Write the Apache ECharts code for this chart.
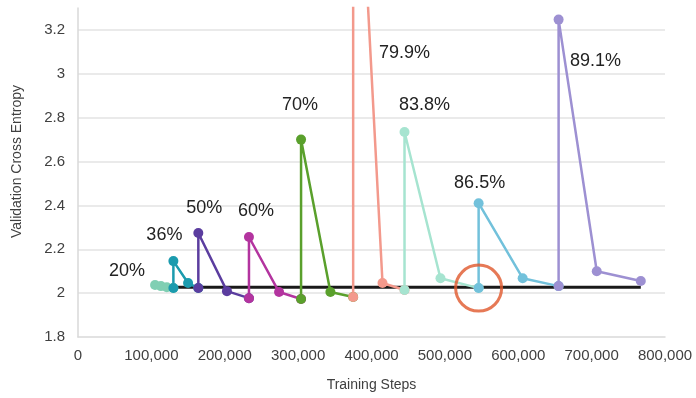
<!DOCTYPE html>
<html>
<head>
<meta charset="utf-8">
<script src="https://cdn.jsdelivr.net/npm/echarts@6/dist/echarts.min.js"></script>
<style>
  html, body { margin: 0; padding: 0; background: #fff; }
  #chart { width: 696px; height: 398px; }
</style>
</head>
<body>
<div id="chart"></div>
<script>
// Pruning levels (one retraining run each)
const pruneLabels = ['20%', '36%', '50%', '60%', '70%', '79.9%', '83.8%', '86.5%', '89.1%'];

// Training steps and validation loss for each pruning run
const steps20 = [105000, 113000, 121000, 130000];
const loss20  = [2.037, 2.032, 2.027, 2.023];
const steps36 = [130000, 130000, 150000, 164000];
const loss36  = [2.023, 2.146, 2.046, 2.023];
const steps50 = [164000, 164000, 203000, 233000];
const loss50  = [2.023, 2.274, 2.009, 1.977];
const steps60 = [233000, 233000, 274000, 304000];
const loss60  = [1.977, 2.256, 2.005, 1.973];
const steps70 = [304000, 304000, 344000, 375000];
const loss70  = [1.973, 2.700, 2.005, 1.982];
const steps80 = [375000, 375000, 415000, 445000];
const loss80  = [1.982, 4.600, 2.046, 2.014];
const steps84 = [445000, 445000, 494000, 546000];
const loss84  = [2.014, 2.735, 2.068, 2.023];
const steps87 = [546000, 546000, 606000, 655000];
const loss87  = [2.023, 2.410, 2.068, 2.032];
const steps89 = [655000, 655000, 707000, 767000];
const loss89  = [2.032, 3.247, 2.100, 2.055];

// Unpruned reference loss
const baselineSteps = [128000, 767000];
const baselineLoss  = [2.027, 2.027];

// Highlighted checkpoint
const highlightSteps = [546000];
const highlightLoss  = [2.023];

// Axis ticks
const xTicks = { min: 0, max: 800000, step: 100000 };
const yTicks = { min: 1.8, max: 3.3, step: 0.2 };

const runs = [
  { steps: steps20, loss: loss20, color: '#80cfb3', labelAt: 0, offset: [-28, -14] },
  { steps: steps36, loss: loss36, color: '#1b9bae', labelAt: 1, offset: [-9, -26] },
  { steps: steps50, loss: loss50, color: '#5b3d9f', labelAt: 1, offset: [6, -25] },
  { steps: steps60, loss: loss60, color: '#b3349f', labelAt: 1, offset: [7, -26] },
  { steps: steps70, loss: loss70, color: '#5aa02c', labelAt: 1, offset: [-1, -35] },
  { steps: steps80, loss: loss80, color: '#f3998c', labelAt: 2, offset: [22, -230] },
  { steps: steps84, loss: loss84, color: '#a6e4d0', labelAt: 1, offset: [20, -27] },
  { steps: steps87, loss: loss87, color: '#72c1db', labelAt: 1, offset: [1, -20] },
  { steps: steps89, loss: loss89, color: '#9d90d2', labelAt: 1, offset: [37, 41] }
];

const textColor = '#404040';
const fontFamily = 'Liberation Sans, Arial, sans-serif';

const series = [];

series.push({
  name: 'baseline',
  type: 'line',
  data: baselineSteps.map((s, i) => [s, baselineLoss[i]]),
  showSymbol: false,
  lineStyle: { color: '#1a1a1a', width: 3 },
  z: 1
});

runs.forEach((run, k) => {
  series.push({
    name: pruneLabels[k],
    type: 'line',
    symbol: 'circle',
    symbolSize: 10,
    z: 2,
    itemStyle: { color: run.color },
    lineStyle: { color: run.color, width: 2.5 },
    data: run.steps.map((s, i) => {
      const item = { value: [s, run.loss[i]] };
      if (i === run.labelAt) {
        item.label = {
          show: true,
          position: 'inside',
          offset: run.offset,
          formatter: pruneLabels[k],
          color: '#222',
          fontSize: 18,
          fontFamily: fontFamily
        };
      }
      return item;
    })
  });
});

series.push({
  name: 'highlight',
  type: 'scatter',
  symbol: 'circle',
  symbolSize: 46,
  z: 5,
  itemStyle: { color: 'rgba(0,0,0,0)', borderColor: '#e0582c', borderWidth: 3 },
  data: highlightSteps.map((s, i) => [s, highlightLoss[i]])
});

const chart = echarts.init(document.getElementById('chart'), null, { renderer: 'canvas' });
chart.setOption({
  animation: false,
  backgroundColor: '#fff',
  grid: { left: 78, right: 31, top: 8, bottom: 61 },
  xAxis: {
    type: 'value',
    min: xTicks.min,
    max: xTicks.max,
    interval: xTicks.step,
    name: 'Training Steps',
    nameLocation: 'middle',
    nameGap: 41,
    nameTextStyle: { color: textColor, fontSize: 14, fontFamily: fontFamily },
    axisLine: { show: true, lineStyle: { color: '#d9d9d9', width: 1.5 } },
    axisTick: { show: false },
    splitLine: { show: false },
    axisLabel: {
      color: textColor,
      fontSize: 15,
      margin: 11,
      fontFamily: fontFamily,
      formatter: v => v.toLocaleString('en-US')
    }
  },
  yAxis: {
    type: 'value',
    min: yTicks.min,
    max: yTicks.max,
    interval: yTicks.step,
    name: 'Validation Cross Entropy',
    nameLocation: 'middle',
    nameGap: 54,
    nameTextStyle: { color: textColor, fontSize: 14, fontFamily: fontFamily, padding: [0, 0, 0, 22] },
    axisLine: { show: true, lineStyle: { color: '#d9d9d9', width: 1.5 } },
    axisTick: { show: false },
    splitLine: { show: true, showMinLine: false, showMaxLine: false, lineStyle: { color: '#e3e3e3', width: 1.5 } },
    axisLabel: {
      color: textColor,
      fontSize: 15,
      margin: 13,
      showMaxLabel: false,
      fontFamily: fontFamily,
      formatter: v => String(Math.round(v * 10) / 10)
    }
  },
  series: series
});
</script>
</body>
</html>
